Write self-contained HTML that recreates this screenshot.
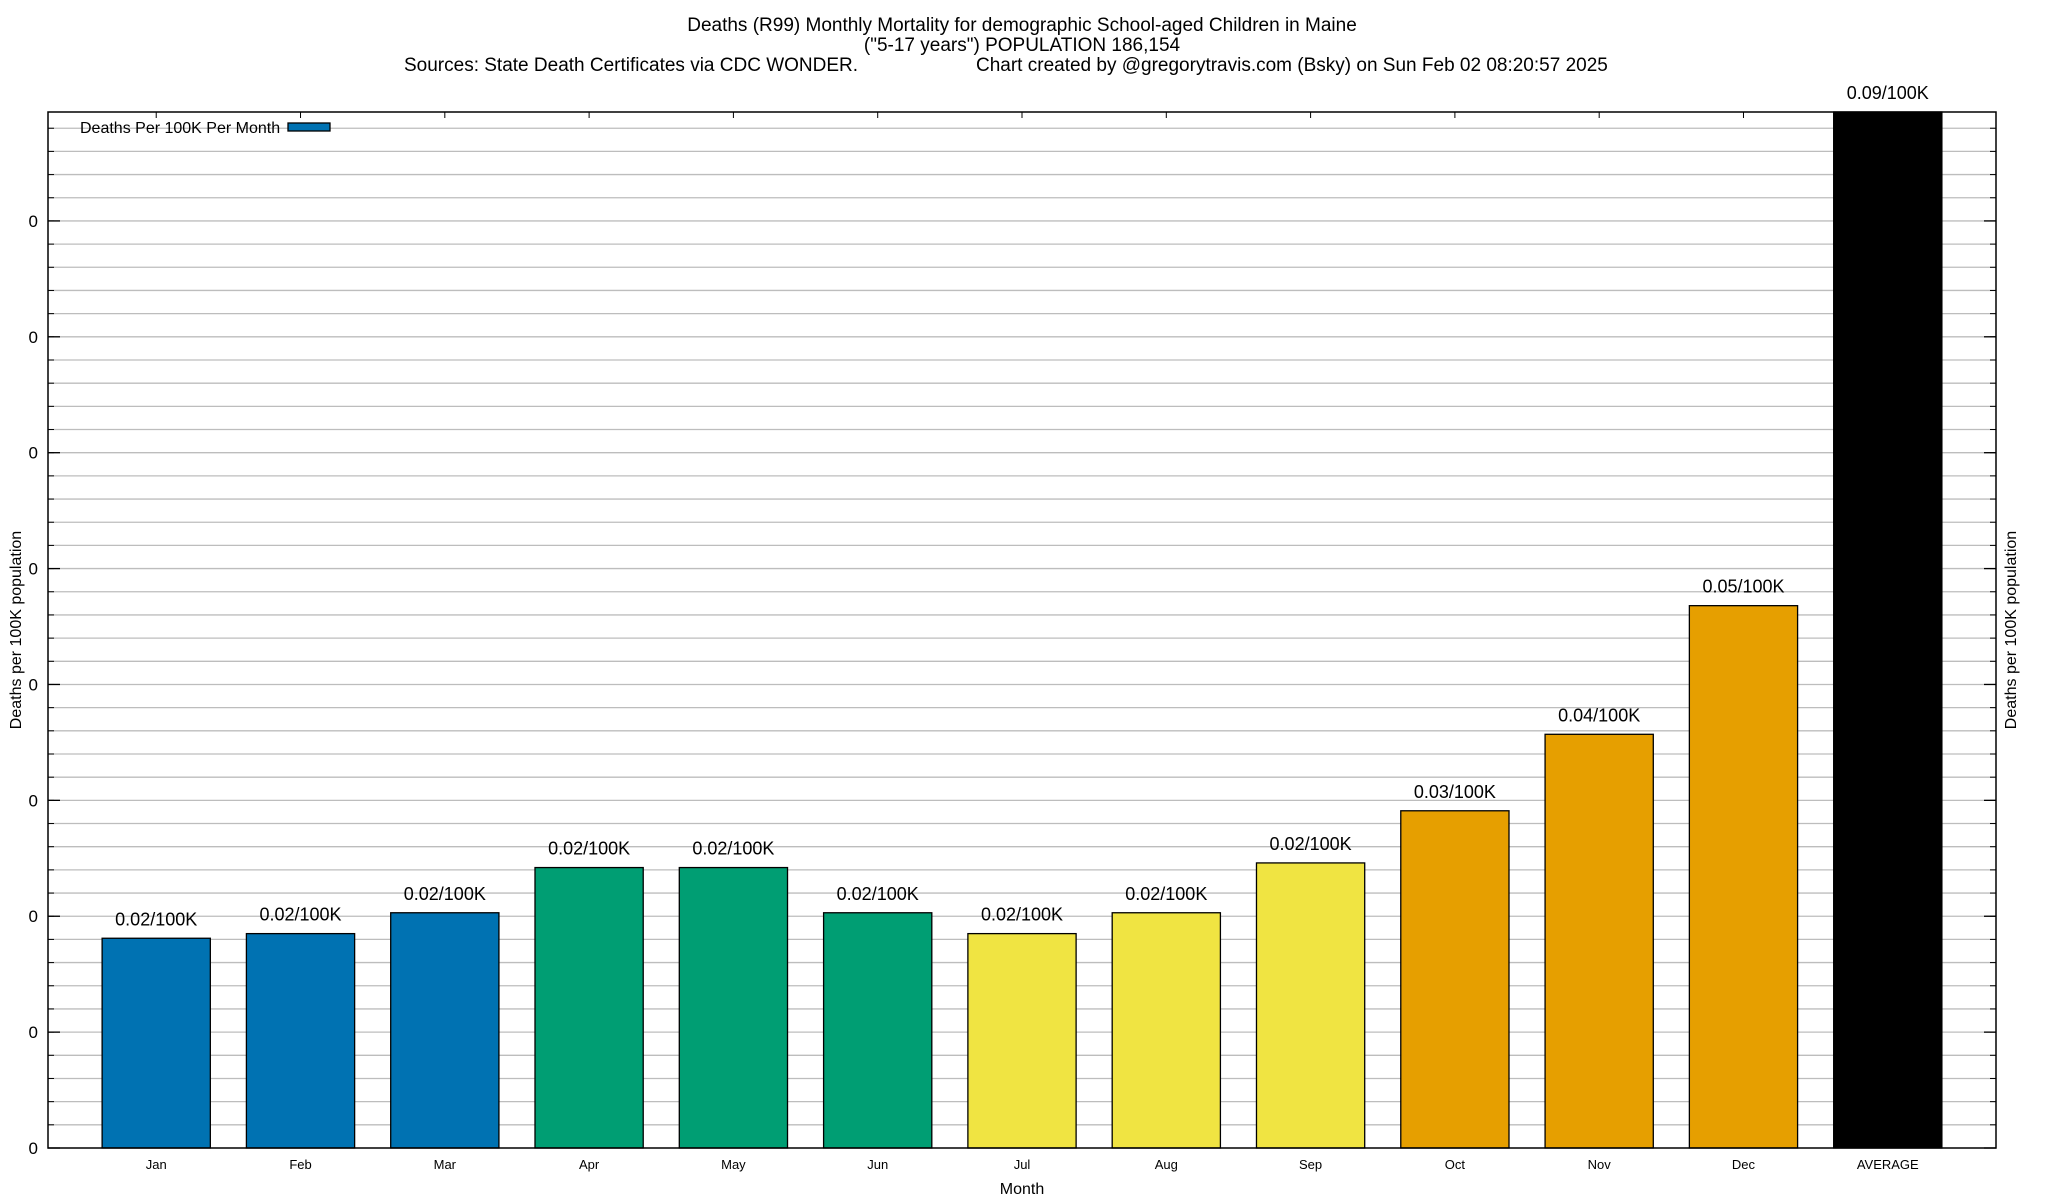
<!DOCTYPE html>
<html><head><meta charset="utf-8"><style>
html,body{margin:0;padding:0;background:#fff;}
svg{display:block;font-family:"Liberation Sans",Arial,sans-serif;}
</style></head><body>
<svg id="chart" width="2048" height="1200" viewBox="0 0 2048 1200" xmlns="http://www.w3.org/2000/svg">
<g font-size="19" text-anchor="middle" fill="#000">
<text x="1022" y="31">Deaths (R99) Monthly Mortality for demographic School-aged Children in Maine</text>
<text x="1022" y="51">("5-17 years") POPULATION 186,154</text>
<text x="404" y="71" text-anchor="start">Sources: State Death Certificates via CDC WONDER.</text>
<text x="976" y="71" text-anchor="start">Chart created by @gregorytravis.com (Bsky) on Sun Feb 02 08:20:57 2025</text>
</g>
<g id="grid"></g>
<g id="bars"></g>
<g id="axes"></g>
<text x="1022" y="1194" font-size="16" text-anchor="middle">Month</text>
<text transform="translate(21,630) rotate(-90)" font-size="16" text-anchor="middle">Deaths per 100K population</text>
<text transform="translate(2016,630) rotate(-90)" font-size="16" text-anchor="middle">Deaths per 100K population</text>
<g>
<text x="80" y="133" font-size="16">Deaths Per 100K Per Month</text>
<rect x="288" y="123" width="42" height="8" fill="#0072b2" stroke="#000" stroke-width="1.3"/>
</g>
</svg>
<script>
const categories = ["Jan","Feb","Mar","Apr","May","Jun","Jul","Aug","Sep","Oct","Nov","Dec","AVERAGE"];
const values = [0.0181,0.0185,0.0203,0.0242,0.0242,0.0203,0.0185,0.0203,0.0246,0.0291,0.0357,0.0468,0.09];
const valueLabels = ["0.02/100K","0.02/100K","0.02/100K","0.02/100K","0.02/100K","0.02/100K","0.02/100K","0.02/100K","0.02/100K","0.03/100K","0.04/100K","0.05/100K","0.09/100K"];
const barColors = ["#0072b2","#0072b2","#0072b2","#009e73","#009e73","#009e73","#f0e442","#f0e442","#f0e442","#e69f00","#e69f00","#e69f00","#000000"];
const yTicks = [0,0.01,0.02,0.03,0.04,0.05,0.06,0.07,0.08];

const NS = "http://www.w3.org/2000/svg";
const L = 48, R = 1996, T = 112, B = 1148;
const yMax = 0.0894, yMinorStep = 0.002;
const xMin = -0.75, xMax = 12.75;
function xs(i){ return L + (i - xMin) / (xMax - xMin) * (R - L); }
function ys(v){ return B - Math.min(v, yMax) / yMax * (B - T); }
function mk(tag, attrs, parent){ const e = document.createElementNS(NS, tag); for (const k in attrs) e.setAttribute(k, attrs[k]); parent.appendChild(e); return e; }

const grid = document.getElementById('grid');
const bars = document.getElementById('bars');
const axes = document.getElementById('axes');

for (let v = yMinorStep; v < yMax; v += yMinorStep) {
  const y = ys(v);
  const g = mk('line', {x1:L, x2:R, y1:y, y2:y, stroke:'#bdbdbd', 'stroke-width':1.3}, grid);
  
  
  const t1 = mk('line', {x1:L, x2:L+6, y1:y, y2:y, stroke:'#000', 'stroke-width':1}, axes);
  
  
  const t2 = mk('line', {x1:R-6, x2:R, y1:y, y2:y, stroke:'#000', 'stroke-width':1}, axes);
  
  
}

yTicks.forEach(v => {
  const y = ys(v);
  const t = mk('line', {x1:L, x2:L+12, y1:y, y2:y, stroke:'#000', 'stroke-width':1.3}, axes);
  
  
  const t2 = mk('line', {x1:R-12, x2:R, y1:y, y2:y, stroke:'#000', 'stroke-width':1.3}, axes);
  
  
  const lb = mk('text', {x:38, y:y+6, 'font-size':17, 'text-anchor':'end'}, axes);
  lb.textContent = v.toFixed(0);
  
  
});

const bw = 0.75 * (R - L) / (xMax - xMin);
categories.forEach((c, i) => {
  const cx = xs(i), y = ys(values[i]);
  const r = mk('rect', {x:cx-bw/2, y:y, width:bw, height:B-y, fill:barColors[i], stroke:'#000', 'stroke-width':1.3}, bars);
  
  
  const vl = mk('text', {x:cx, y:y-13, 'font-size':18, 'text-anchor':'middle'}, bars);
  vl.textContent = valueLabels[i];
  
  
  const xl = mk('text', {x:cx, y:1169, 'font-size':13, 'text-anchor':'middle'}, axes);
  xl.textContent = c;
  
  
  const tt = mk('line', {x1:cx, x2:cx, y1:T, y2:T+6, stroke:'#000', 'stroke-width':1}, axes);
  
  
});

const frame = mk('rect', {x:L, y:T, width:R-L, height:B-T, fill:'none', stroke:'#000', 'stroke-width':1.5}, axes);


</script>
</body></html>
